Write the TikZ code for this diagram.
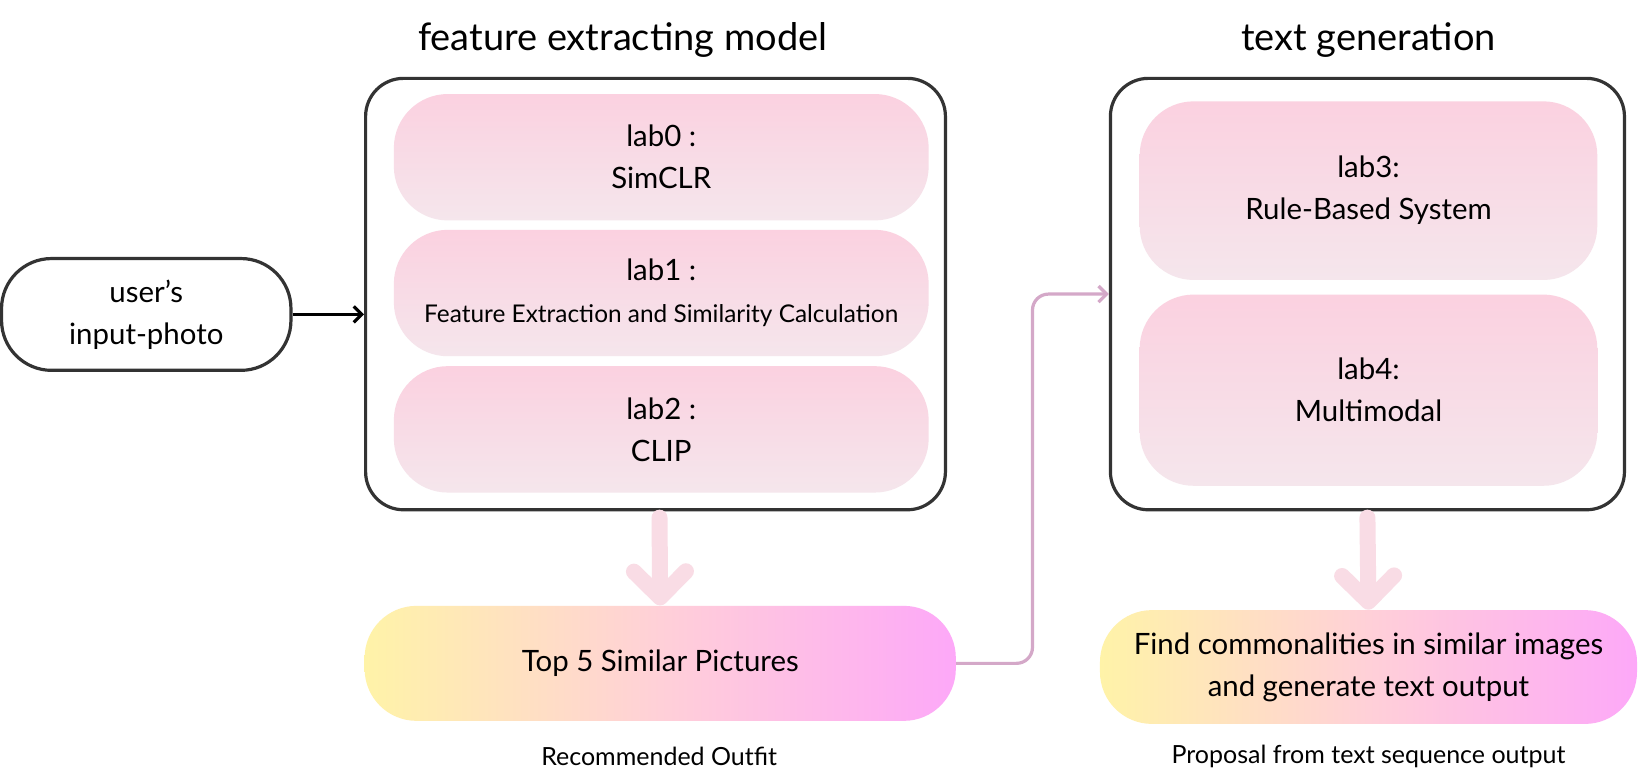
\documentclass[tikz,border=0pt]{standalone}
\usepackage{fontspec}
\setmainfont{Lato}
\usetikzlibrary{arrows.meta}
\definecolor{frame}{HTML}{333333}
\definecolor{labtop}{HTML}{FBD1E0}
\definecolor{labbot}{HTML}{F5E6EC}
\definecolor{outyellow}{HTML}{FFF3A8}
\definecolor{outmid}{HTML}{FFD0D8}
\definecolor{outpink}{HTML}{FDA8F8}
\definecolor{fatpink}{HTML}{F9DCE5}
\definecolor{linkpink}{HTML}{D4A8C8}
\tikzset{
  title/.style={font=\fontsize{19}{22}\selectfont},
  note/.style={font=\fontsize{12.5}{15}\selectfont},
  group/.style={draw=frame, line width=1.6pt, rounded corners=19pt},
  labbox/.style={rounded corners=27pt, top color=labtop, bottom color=labbot,
    align=center, font=\fontsize{14.7}{21}\selectfont},
  result/.style={rounded corners=26pt, left color=outyellow, right color=outpink,
    middle color=outmid, align=center, font=\fontsize{14.7}{21}\selectfont},
  fat/.style={fatpink, line width=8pt, line cap=round,
    -{Straight Barb[length=13pt,width=26pt,round]}},
  link/.style={linkpink, line width=1.6pt, rounded corners=8pt,
    -{Straight Barb[length=4pt,width=8pt]}}
}
\begin{document}
\begin{tikzpicture}[x=0.5223pt, y=-0.5223pt]
      \useasboundingbox[fill=white] (0,0) rectangle (1568,748.6);

      % Input
      \node[draw=frame, line width=1.6pt, rounded corners=25pt, minimum width=144.7pt,
        minimum height=55.9pt, align=center, font=\fontsize{14.7}{21}\selectfont]
        (user) at (140,301) {user's\\input-photo};

      % Feature extracting model
      \node[title] (title1) at (596,38) {feature extracting model};
      \node[group, minimum width=289.9pt, minimum height=215.7pt] (feat) at (627.5,281.5) {};
      \foreach \name/\y/\txt in {lab0/150.5/{lab0 :\\SimCLR},
          lab1/280.5/{lab1 :\\{\fontsize{12.2}{18}\selectfont Feature Extraction and Similarity Calculation}},
          lab2/411/{lab2 :\\CLIP}}
      {
        \node[labbox, minimum width=267.4pt, minimum height=63.2pt] (\name) at (633,\y) {\txt};
      }
      \node[result, minimum width=295.6pt, minimum height=57.5pt] (top5) at (632,635) {Top 5 Similar Pictures};
      \node[note] (note1) at (631,724) {Recommended Outfit};

      % Text generation
      \node[title] (title2) at (1310,38) {text generation};
      \node[group, minimum width=257pt, minimum height=215.7pt] (gen) at (1309,281.5) {};
      \node[labbox, minimum width=228.8pt, minimum height=89.3pt] (lab3) at (1310,182.5) {lab3:\\Rule-Based System};
      \node[labbox, minimum width=228.8pt, minimum height=95.6pt] (lab4) at (1310,373.5) {lab4:\\Multimodal};
      \node[result, minimum width=268.5pt, minimum height=56.9pt] (out) at (1310,638.5)
        {Find commonalities in similar images\\and generate text output};
      \node[note] (note2) at (1310,724) {Proposal from text sequence output};

      % Arrows
      \draw[line width=1.6pt, -{Straight Barb[length=4pt,width=8pt]}] (user.east) -- (user.east -| feat.west);
      \draw[fat] ([xshift=2pt]feat.south) ++(0,6) -- (top5.north);
      \draw[fat] (gen.south) ++(0,6) -- (out.north);
      \draw[link] (top5.east) -- ++(73,0) |- (gen.west);
    \end{tikzpicture}
\end{document}
